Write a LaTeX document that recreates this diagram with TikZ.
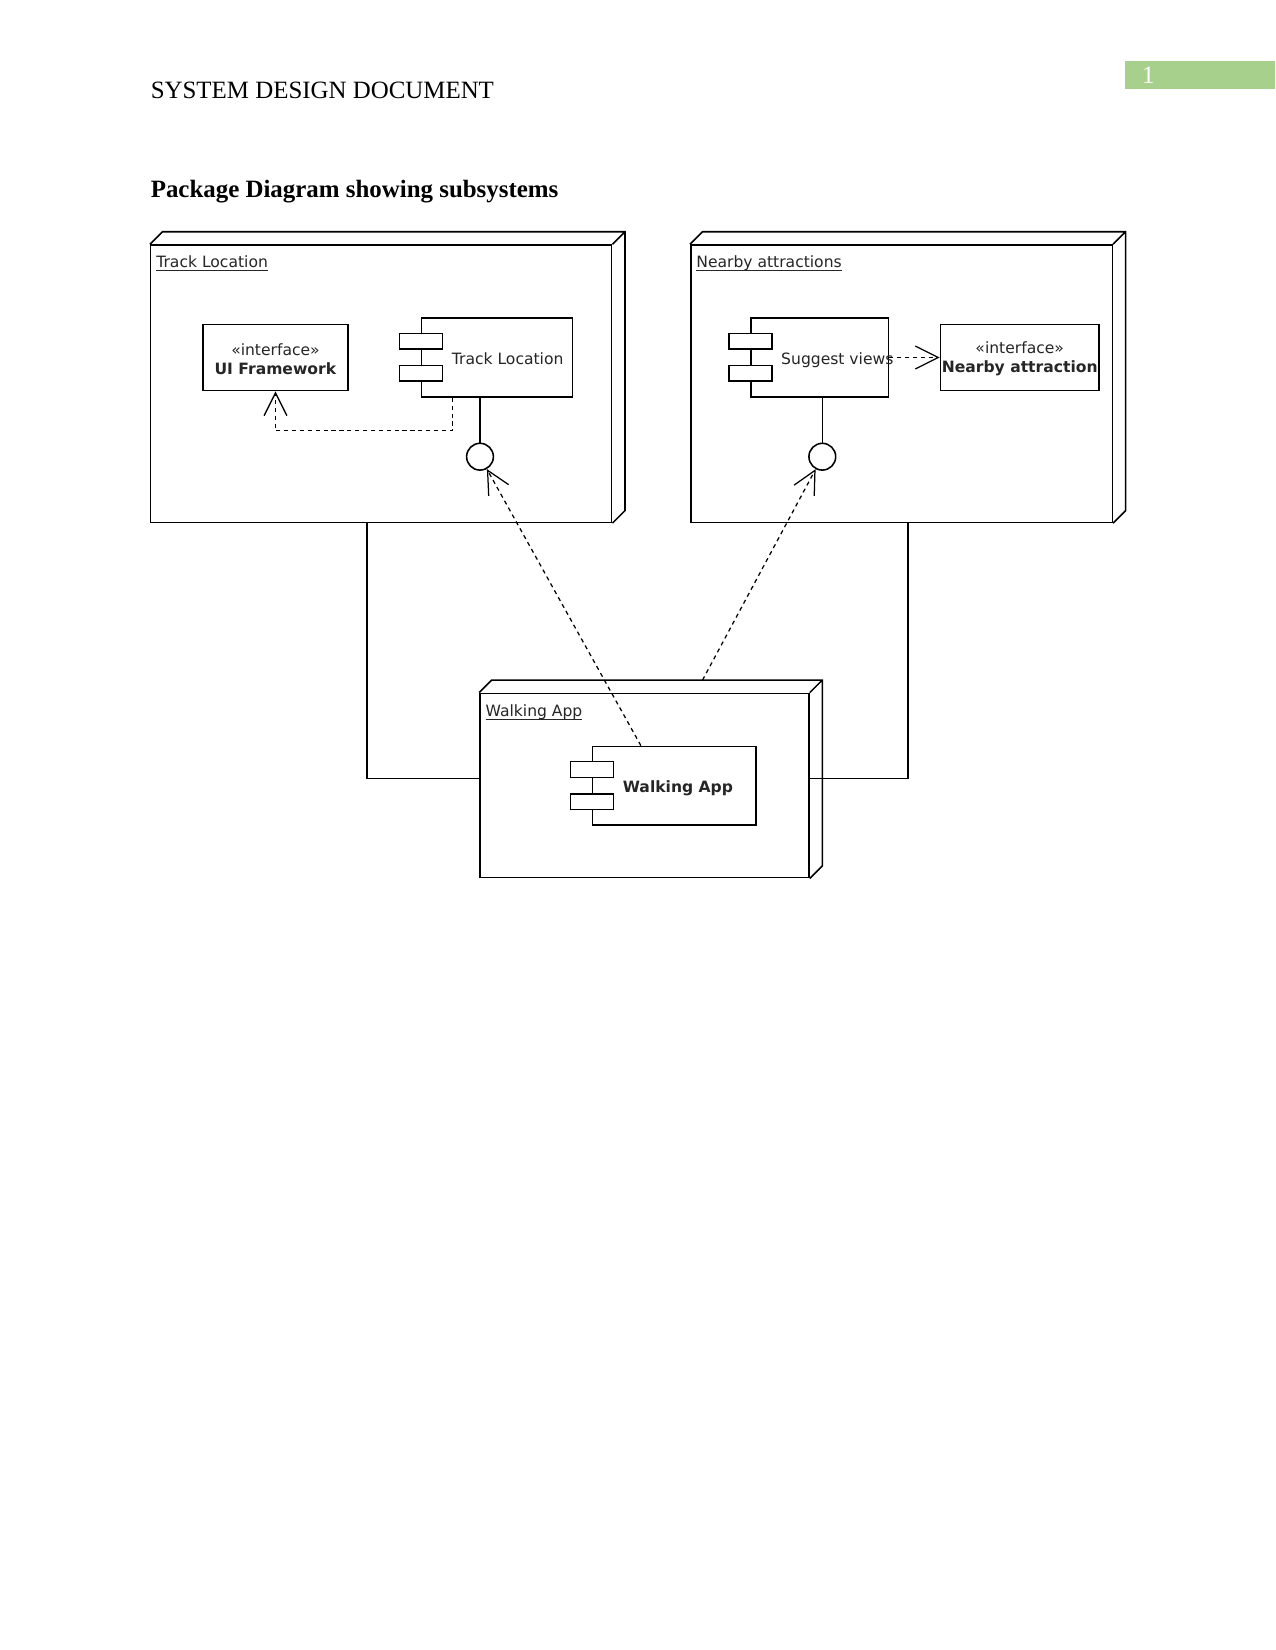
\documentclass[tikz,border=0pt]{standalone}
\usepackage{fontspec}
\setmainfont{Liberation Serif}
\newfontfamily\drawfont{DejaVu Sans}
\usetikzlibrary{shapes,calc,arrows.meta}
\definecolor{pagegreen}{RGB}{168,208,141}

\newcommand{\pkgdepth}[1]{%
  \draw[solidline] (#1.north west) -- ++(12.5,-12.5) -| ($(#1.south east)+(12.5,-12.5)$) -- (#1.south east)
    (#1.north east) -- ++(12.5,-12.5);}
\newcommand{\compbars}[1]{%
  \foreach \fr in {0.2,0.6}
    \draw[solidline,fill=white] ($(#1.north west)!\fr!(#1.south west)+(-21.5,0)$) rectangle ++(43,15.7);}

\begin{document}
\begin{tikzpicture}[x=0.4818pt,y=-0.4818pt,
    solidline/.style={line width=0.75pt},
    dep/.style={line width=0.6pt,dash pattern=on 2pt off 1.8pt,-{Straight Barb[length=11pt,width=11pt]}},
    box/.style={draw,solidline,rectangle,inner sep=0pt},
    txt/.style={inner sep=0pt,text=black!85,font=\drawfont\fontsize{7.5}{9.2}\selectfont},
    hdr/.style={inner sep=0pt,font=\fontsize{12}{14}\selectfont}]
  \fill[white] (0,0) rectangle (1275,1650);
  \useasboundingbox (0,0) rectangle (1275,1650);

  \fill[pagegreen] (1125,61) rectangle (1275,89);
  \node[hdr,text=white,anchor=base west] (pnum) at (1141.7,84) {1};
  \node[hdr,anchor=base west] (head) at (150.4,99) {SYSTEM DESIGN DOCUMENT};
  \node[hdr,font=\bfseries\fontsize{12}{14}\selectfont,anchor=base west] (title) at (150.4,198) {Package Diagram showing subsystems};

  \node[box,minimum width=222.1pt,minimum height=133.6pt] (TL) at (381.2,383.7) {};
  \node[box,minimum width=203.1pt,minimum height=133.6pt] (NB) at ($(TL)+(520.3,0)$) {};
  \node[box,minimum width=158.5pt,minimum height=88.8pt] (WA) at (644.5,785.5) {};
  \pkgdepth{TL} \pkgdepth{NB} \pkgdepth{WA}
  \node[txt,anchor=base west] (TLl) at ($(TL.north west)+(6,23.5)$) {\underline{\smash{Track Location}}};
  \node[txt,anchor=base west] (NBl) at ($(NB.north west)+(6,23.5)$) {\underline{\smash{Nearby attractions}}};
  \node[txt,anchor=base west] (WAl) at ($(WA.north west)+(6,23.5)$) {\underline{\smash{Walking App}}};

  \node[box,txt,align=center,minimum width=70.1pt,minimum height=32pt] (UI) at (275.5,357.5) {};
  \node[txt,align=center] (UIt) at ($(UI)+(0,1.5)$) {«interface»\\\textbf{UI Framework}};
  \node[box,txt,align=center,minimum width=76.5pt,minimum height=32pt] (NA) at (1019.7,357.5) {};
  \node[txt,align=center] (NAt) at ($(NA)+(0,1.5)$) {«interface»\\\textbf{Nearby attraction}};

  \node[box,minimum width=72.6pt,minimum height=38.1pt] (TC) at ($(UI)+(221.5,0)$) {};
  \node[box,minimum width=66.2pt,minimum height=38.1pt] (SV) at ($(NA)+(-200,0)$) {};
  \node[box,minimum width=78.7pt,minimum height=37.9pt] (WC) at (674.3,785.7) {};
  \compbars{TC} \compbars{SV} \compbars{WC}
  \node[txt,anchor=base west] (TCt) at ($(TC.west)+(30.6,6.8)$) {Track Location};
  \node[txt,anchor=base west] (SVt) at ($(SV.west)+(30.6,6.8)$) {Suggest views};
  \node[txt,anchor=base west] (WCt) at ($(WC.west)+(30.6,6.3)$) {\textbf{Walking App}};

  \node[circle,draw,solidline,minimum size=12.9pt,inner sep=0pt] (C1) at (480,456.7) {};
  \node[circle,draw,solidline,minimum size=12.9pt,inner sep=0pt] (C2) at ($(C1)+(342.3,0)$) {};
  \draw[solidline] (TC.south -| C1) -- (C1);
  \draw[solidline] (SV.south -| C2) -- (C2);

  \draw[dep] ($(TC.south west)+(31.6,0)$) -- ++(0,33) -| (UI.south);
  \draw[dep] (SV.east) -- (NA.west);
  \draw[dep] ($(WC.north west)+(49,0)$) -- (C1);
  \draw[dep] ($(WA.north west)+(223.3,-12.5)$) -- (C2);

  \draw[solidline] ($(TL.south west)+(216.8,0)$) |- ($(WA.west)+(0,-7)$);
  \draw[solidline] ($(WA.east)+(0,-7)$) -| ($(NB.south)+(6.25,0)$);
\end{tikzpicture}
\end{document}
